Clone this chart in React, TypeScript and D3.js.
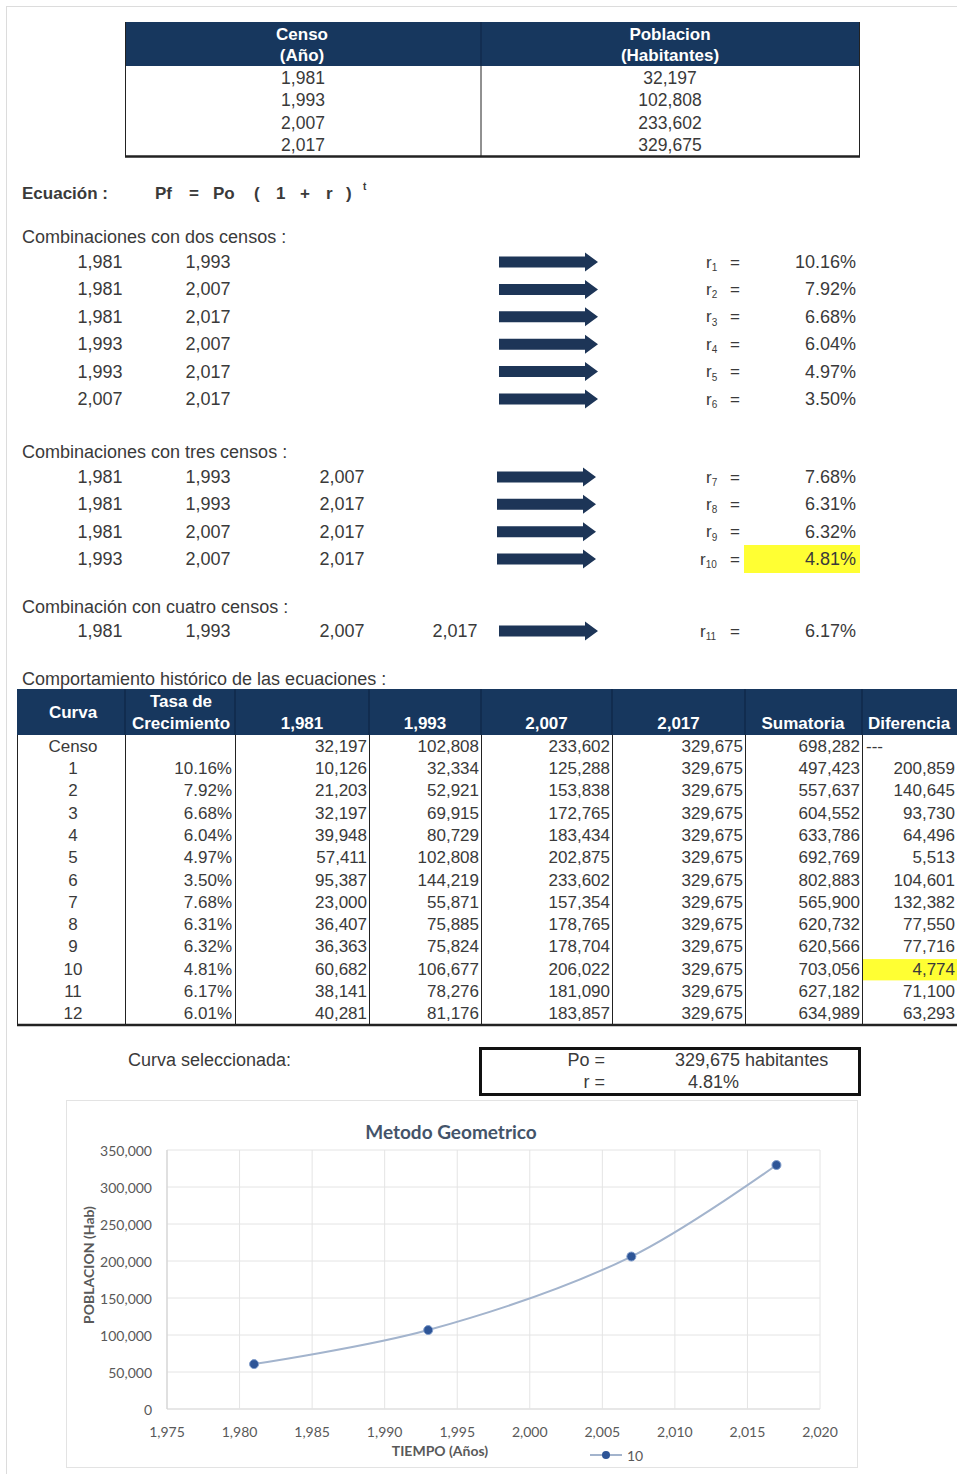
import * as d3 from 'd3';

// census table
const censusYears = [1981, 1993, 2007, 2017];
const censusPop = [32197, 102808, 233602, 329675];

// combinations and their growth rates (%)
const combos2 = [[1981, 1993], [1981, 2007], [1981, 2017], [1993, 2007], [1993, 2017], [2007, 2017]];
const rates2 = [10.16, 7.92, 6.68, 6.04, 4.97, 3.5];
const combos3 = [[1981, 1993, 2007], [1981, 1993, 2017], [1981, 2007, 2017], [1993, 2007, 2017]];
const rates3 = [7.68, 6.31, 6.32, 4.81];
const combos4 = [[1981, 1993, 2007, 2017]];
const rates4 = [6.17];

// historical behaviour table
const curveIds = [1, 2, 3, 4, 5, 6, 7, 8, 9, 10, 11, 12];
const curveRates = [10.16, 7.92, 6.68, 6.04, 4.97, 3.5, 7.68, 6.31, 6.32, 4.81, 6.17, 6.01];
const pop1981 = [10126, 21203, 32197, 39948, 57411, 95387, 23000, 36407, 36363, 60682, 38141, 40281];
const pop1993 = [32334, 52921, 69915, 80729, 102808, 144219, 55871, 75885, 75824, 106677, 78276, 81176];
const pop2007 = [125288, 153838, 172765, 183434, 202875, 233602, 157354, 178765, 178704, 206022, 181090, 183857];
const pop2017 = [329675, 329675, 329675, 329675, 329675, 329675, 329675, 329675, 329675, 329675, 329675, 329675];
const sumatoria = [497423, 557637, 604552, 633786, 692769, 802883, 565900, 620732, 620566, 703056, 627182, 634989];
const diferencia = [200859, 140645, 93730, 64496, 5513, 104601, 132382, 77550, 77716, 4774, 71100, 63293];
const censoSum = 698282;
const selectedCurve = 10;

// chart series (curve 10)
const chartYears = [1981, 1993, 2007, 2017];
const chartPop = [60682, 106677, 206022, 329675];
const yTicks = [0, 50000, 100000, 150000, 200000, 250000, 300000, 350000];
const xTicks = [1975, 1980, 1985, 1990, 1995, 2000, 2005, 2010, 2015, 2020];

const SANS = '"Liberation Sans", Arial, sans-serif';
const CHARTFONT = 'Lato, "Open Sans", sans-serif';
const NAVY = '#17375e';
const TXT = '#3a3a3a';
const FS = 18; // labels
const FT = 17; // tables
const fmt = d3.format(',');
const pct = (v: number) => d3.format('.2f')(v) + '%';

const Arrow = ({ x, y }: { x: number; y: number }) => {
  const x0 = x, x1 = x + 86, x2 = x + 99;
  const d = `M${x0},${y - 5.5}H${x1}V${y - 9.5}L${x2},${y}L${x1},${y + 9.5}V${y + 5.5}H${x0}Z`;
  return <path d={d} fill="#1d3557" />;
};

const RLabel = ({ i, y }: { i: number; y: number }) => (
  <g>
    <text x={i >= 10 ? 700 : 706} y={y} fontSize={FS - 1} fill={TXT} dominantBaseline="central">
      r<tspan fontSize={10} dy={5}>{i}</tspan>
    </text>
    <text x={735} y={y} fontSize={FS - 1} fill={TXT} dominantBaseline="central" textAnchor="middle">=</text>
  </g>
);

const App = () => {
  const topRows = d3.scaleBand<number>().domain(d3.range(censusYears.length)).range([67, 156]);
  const y2 = d3.scaleLinear().domain([0, 5]).range([262, 399]);
  const y3 = d3.scaleLinear().domain([0, 3]).range([477, 559]);
  const y4 = 631;
  const comboCols = [100, 208, 342, 455];

  const rowKeys = ['Censo', ...curveIds.map(String)];
  const bigRows = d3.scaleBand<string>().domain(rowKeys).range([735, 1025]);
  const colEdges = [17, 125, 235, 369, 481, 612, 745, 862, 957];

  const xS = d3.scaleLinear().domain([1975, 2020]).range([167, 820]);
  const yS = d3.scaleLinear().domain([0, 350000]).range([1409, 1150]);
  const line = d3.line<number>()
    .x((_, i) => xS(chartYears[i]))
    .y((d) => yS(d))
    .curve(d3.curveCatmullRom.alpha(0.5));

  const rowVals = (i: number) => [pop1981[i], pop1993[i], pop2007[i], pop2017[i], sumatoria[i]];

  return (
    <svg width={957} height={1474} style={{ position: 'absolute', left: 0, top: 0, background: '#fff' }}
      fontFamily={SANS}>
      <rect x={0} y={0} width={957} height={1474} fill="#fff" />
      <rect x={6.5} y={6.5} width={960} height={1480} fill="none" stroke="#dcdcdc" />

      {/* top census table */}
      <rect x={125} y={22} width={735} height={44} fill={NAVY} />
      <text x={302} y={34} fill="#fff" fontWeight="bold" fontSize={FT} textAnchor="middle" dominantBaseline="central">Censo</text>
      <text x={302} y={55} fill="#fff" fontWeight="bold" fontSize={FT} textAnchor="middle" dominantBaseline="central">(Año)</text>
      <text x={670} y={34} fill="#fff" fontWeight="bold" fontSize={FT} textAnchor="middle" dominantBaseline="central">Poblacion</text>
      <text x={670} y={55} fill="#fff" fontWeight="bold" fontSize={FT} textAnchor="middle" dominantBaseline="central">(Habitantes)</text>
      <line x1={481} x2={481} y1={22} y2={66} stroke="#0e2544" />
      <line x1={125.5} x2={125.5} y1={22} y2={157} stroke="#222" />
      <line x1={859.5} x2={859.5} y1={22} y2={157} stroke="#222" />
      <line x1={481} x2={481} y1={66} y2={157} stroke="#222" />
      <line x1={125} x2={860} y1={156.5} y2={156.5} stroke="#222" strokeWidth={2.5} />
      {censusYears.map((yr, i) => (
        <g key={yr}>
          <text x={303} y={topRows(i)! + topRows.bandwidth() / 2} fontSize={FT + 0.5} fill={TXT} textAnchor="middle" dominantBaseline="central">{fmt(yr)}</text>
          <text x={670} y={topRows(i)! + topRows.bandwidth() / 2} fontSize={FT + 0.5} fill={TXT} textAnchor="middle" dominantBaseline="central">{fmt(censusPop[i])}</text>
        </g>
      ))}

      {/* equation */}
      <text x={22} y={193} fontSize={FT} fill={TXT} fontWeight="bold" dominantBaseline="central">Ecuación :</text>
      {[['Pf', 155], ['=', 189], ['Po', 213], ['(', 254], ['1', 276], ['+', 300], ['r', 326], [')', 346]].map(([t, x]) => (
        <text key={String(x)} x={x as number} y={193} fontSize={FT} fill={TXT} fontWeight="bold" dominantBaseline="central">{t}</text>
      ))}
      <text x={363} y={186} fontSize={10} fill={TXT} fontWeight="bold" dominantBaseline="central">t</text>

      {/* two censuses */}
      <text x={22} y={237} fontSize={FS} fill={TXT} dominantBaseline="central">Combinaciones con dos censos :</text>
      {combos2.map((c, i) => (
        <g key={'c2' + i}>
          {c.map((yr, j) => (
            <text key={j} x={comboCols[j]} y={y2(i)} fontSize={FS} fill={TXT} textAnchor="middle" dominantBaseline="central">{fmt(yr)}</text>
          ))}
          <Arrow x={499} y={y2(i)} />
          <RLabel i={i + 1} y={y2(i)} />
          <text x={856} y={y2(i)} fontSize={FS} fill={TXT} textAnchor="end" dominantBaseline="central">{pct(rates2[i])}</text>
        </g>
      ))}

      {/* three censuses */}
      <text x={22} y={452} fontSize={FS} fill={TXT} dominantBaseline="central">Combinaciones con tres censos :</text>
      {combos3.map((c, i) => {
        const idx = i + 7;
        return (
          <g key={'c3' + i}>
            {idx === selectedCurve && <rect x={744} y={y3(i) - 14} width={116} height={28} fill="#ffff33" />}
            {c.map((yr, j) => (
              <text key={j} x={comboCols[j]} y={y3(i)} fontSize={FS} fill={TXT} textAnchor="middle" dominantBaseline="central">{fmt(yr)}</text>
            ))}
            <Arrow x={497} y={y3(i)} />
            <RLabel i={idx} y={y3(i)} />
            <text x={856} y={y3(i)} fontSize={FS} fill={TXT} textAnchor="end" dominantBaseline="central">{pct(rates3[i])}</text>
          </g>
        );
      })}

      {/* four censuses */}
      <text x={22} y={607} fontSize={FS} fill={TXT} dominantBaseline="central">Combinación con cuatro censos :</text>
      {combos4.map((c, i) => (
        <g key={'c4' + i}>
          {c.map((yr, j) => (
            <text key={j} x={comboCols[j]} y={y4} fontSize={FS} fill={TXT} textAnchor="middle" dominantBaseline="central">{fmt(yr)}</text>
          ))}
          <Arrow x={499} y={y4} />
          <RLabel i={11} y={y4} />
          <text x={856} y={y4} fontSize={FS} fill={TXT} textAnchor="end" dominantBaseline="central">{pct(rates4[i])}</text>
        </g>
      ))}

      {/* historical table */}
      <text x={22} y={679} fontSize={FS} fill={TXT} dominantBaseline="central">Comportamiento histórico de las ecuaciones :</text>
      <rect x={17} y={689} width={940} height={46} fill={NAVY} />
      {colEdges.slice(1, -1).map((x) => (
        <line key={'h' + x} x1={x} x2={x} y1={689} y2={735} stroke="#0c2340" />
      ))}
      <text x={73} y={712} fill="#fff" fontWeight="bold" fontSize={FT} textAnchor="middle" dominantBaseline="central">Curva</text>
      <text x={181} y={701} fill="#fff" fontWeight="bold" fontSize={FT} textAnchor="middle" dominantBaseline="central">Tasa de</text>
      <text x={181} y={723} fill="#fff" fontWeight="bold" fontSize={FT} textAnchor="middle" dominantBaseline="central">Crecimiento</text>
      {censusYears.map((yr, j) => (
        <text key={'hy' + yr} x={(colEdges[j + 2] + colEdges[j + 3]) / 2} y={723} fill="#fff" fontWeight="bold" fontSize={FT} textAnchor="middle" dominantBaseline="central">{fmt(yr)}</text>
      ))}
      <text x={803} y={723} fill="#fff" fontWeight="bold" fontSize={FT} textAnchor="middle" dominantBaseline="central">Sumatoria</text>
      <text x={909} y={723} fill="#fff" fontWeight="bold" fontSize={FT} textAnchor="middle" dominantBaseline="central">Diferencia</text>

      <rect x={862} y={bigRows(String(selectedCurve))! + 1} width={95} height={bigRows.bandwidth() - 1} fill="#ffff33" />

      {colEdges.slice(0, -1).map((x) => (
        <line key={'v' + x} x1={x + 0.5} x2={x + 0.5} y1={735} y2={1025} stroke="#222" />
      ))}
      <line x1={17} x2={957} y1={1025} y2={1025} stroke="#222" strokeWidth={2.5} />

      <text x={73} y={bigRows('Censo')! + bigRows.bandwidth() / 2} fontSize={FT} fill={TXT} textAnchor="middle" dominantBaseline="central">Censo</text>
      {[...censusPop, censoSum].map((v, j) => (
        <text key={'cr' + j} x={colEdges[j + 3] - 2} y={bigRows('Censo')! + bigRows.bandwidth() / 2} fontSize={FT} fill={TXT} textAnchor="end" dominantBaseline="central">{fmt(v)}</text>
      ))}
      <text x={866} y={bigRows('Censo')! + bigRows.bandwidth() / 2} fontSize={FT} fill={TXT} dominantBaseline="central">---</text>

      {curveIds.map((id, i) => {
        const cy = bigRows(String(id))! + bigRows.bandwidth() / 2;
        return (
          <g key={'r' + id}>
            <text x={73} y={cy} fontSize={FT} fill={TXT} textAnchor="middle" dominantBaseline="central">{id}</text>
            <text x={232} y={cy} fontSize={FT} fill={TXT} textAnchor="end" dominantBaseline="central">{pct(curveRates[i])}</text>
            {rowVals(i).map((v, j) => (
              <text key={j} x={colEdges[j + 3] - 2} y={cy} fontSize={FT} fill={TXT} textAnchor="end" dominantBaseline="central">{fmt(v)}</text>
            ))}
            <text x={955} y={cy} fontSize={FT} fill={TXT} textAnchor="end" dominantBaseline="central">{fmt(diferencia[i])}</text>
          </g>
        );
      })}

      {/* selected curve box */}
      <text x={128} y={1060} fontSize={FS} fill={TXT} dominantBaseline="central">Curva seleccionada:</text>
      <rect x={480.5} y={1048.5} width={379} height={46} fill="none" stroke="#111" strokeWidth={3} />
      <text x={605} y={1060} fontSize={FS} fill={TXT} textAnchor="end" dominantBaseline="central">Po =</text>
      <text x={675} y={1060} fontSize={FS} fill={TXT} dominantBaseline="central">{fmt(pop2017[selectedCurve - 1])} habitantes</text>
      <text x={605} y={1082} fontSize={FS} fill={TXT} textAnchor="end" dominantBaseline="central">r =</text>
      <text x={688} y={1082} fontSize={FS} fill={TXT} dominantBaseline="central">{pct(curveRates[selectedCurve - 1])}</text>

      {/* chart */}
      <rect x={66.5} y={1100.5} width={791} height={367} fill="#fff" stroke="#e3e3e3" />
      <text x={451} y={1131} fontSize={19} fontWeight="bold" fill="#44546a" textAnchor="middle" dominantBaseline="central" fontFamily={CHARTFONT}>Metodo Geometrico</text>
      {yTicks.map((t) => (
        <g key={'gy' + t}>
          <line x1={xS(1975)} x2={xS(2020)} y1={yS(t)} y2={yS(t)} stroke={t === 0 ? '#cfcfcf' : '#e4e4e4'} />
          <text x={152} y={yS(t)} fontSize={14} fill="#595959" textAnchor="end" dominantBaseline="central" fontFamily={CHARTFONT}>{fmt(t)}</text>
        </g>
      ))}
      {xTicks.map((t) => (
        <g key={'gx' + t}>
          <line x1={xS(t)} x2={xS(t)} y1={yS(350000)} y2={yS(0)} stroke="#e4e4e4" />
          <text x={xS(t)} y={1431} fontSize={14} fill="#595959" textAnchor="middle" dominantBaseline="central" fontFamily={CHARTFONT}>{fmt(t)}</text>
        </g>
      ))}
      <line x1={xS(1975)} x2={xS(1975)} y1={yS(350000)} y2={yS(0)} stroke="#cfcfcf" />
      <text transform="translate(88,1265) rotate(-90)" fontSize={14} fontWeight="bold" fill="#595959" textAnchor="middle" dominantBaseline="central" fontFamily={CHARTFONT}>POBLACION (Hab)</text>
      <text x={440} y={1450} fontSize={14} fontWeight="bold" fill="#595959" textAnchor="middle" dominantBaseline="central" fontFamily={CHARTFONT}>TIEMPO (Años)</text>
      <path d={line(chartPop) ?? ''} fill="none" stroke="#a3b4cd" strokeWidth={2} />
      {chartPop.map((v, i) => (
        <circle key={'p' + i} cx={xS(chartYears[i])} cy={yS(v)} r={4.5} fill="#2e5597" stroke="#7f9ccb" strokeWidth={1} />
      ))}
      <line x1={590} x2={622} y1={1455} y2={1455} stroke="#a3b4cd" strokeWidth={2} />
      <circle cx={606} cy={1455} r={4} fill="#2e5597" />
      <text x={627} y={1455} fontSize={14} fill="#595959" dominantBaseline="central" fontFamily={CHARTFONT}>{selectedCurve}</text>
    </svg>
  );
};

export default App;
